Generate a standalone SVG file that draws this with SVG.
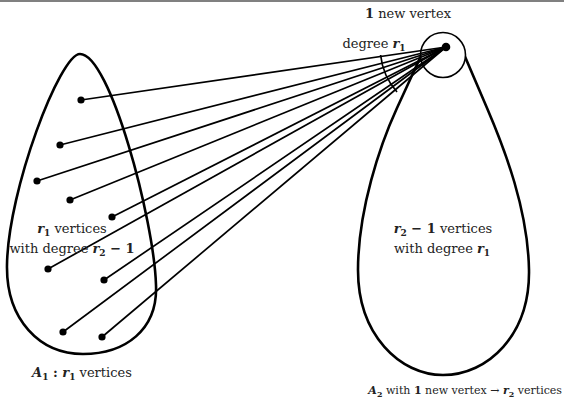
<svg xmlns="http://www.w3.org/2000/svg" width="564" height="403" viewBox="0 0 564 403">
<style>
.blob{fill:none;stroke:#000;stroke-width:2.6}
.edge{stroke:#000;stroke-width:1.7;fill:none}
.dot{fill:#000}
text{font-family:"DejaVu Serif","Liberation Serif",serif;font-size:13px;fill:#222;text-anchor:middle}
.m{font-weight:bold;font-style:italic}
.b{font-weight:bold}
.s{font-size:9px;font-weight:bold}
.ss{font-size:8px;font-weight:bold}
</style>
<rect x="0" y="0" width="564" height="403" fill="#fff"/>
<line x1="0" y1="1" x2="564" y2="1" stroke="#808080" stroke-width="2"/>
<g id="A1">
<path class="blob" d="M 80 54 C 60 54, 8 190, 7 265 C 6 320, 40 354, 83 354 C 125 354, 158 330, 156 285 C 154 220, 110 54, 80 54 Z"/>
</g>
<g id="A2">
<path class="blob" d="M 426 45 L 397 108 C 380 145, 358 210, 358 270 C 358 335, 400 375, 443 375 C 488 375, 530 335, 529 270 C 528 210, 505 150, 487 108 L 460 45 Q 443 35 426 45 Z"/>
<circle cx="443" cy="55" r="22.5" fill="#fff" stroke="#000" stroke-width="1.6"/>
</g>
<g id="connectors">
<line class="edge" x1="81" y1="100" x2="446" y2="47"/>
<line class="edge" x1="60" y1="145" x2="446" y2="47"/>
<line class="edge" x1="37" y1="181" x2="446" y2="47"/>
<line class="edge" x1="70" y1="200" x2="446" y2="47"/>
<line class="edge" x1="112" y1="217" x2="446" y2="47"/>
<line class="edge" x1="48" y1="269" x2="446" y2="47"/>
<line class="edge" x1="104" y1="280" x2="446" y2="47"/>
<line class="edge" x1="63" y1="332" x2="446" y2="47"/>
<line class="edge" x1="102" y1="337" x2="446" y2="47"/>
<path class="edge" d="M 380.6 55 A 66 66 0 0 0 397 92" stroke-width="2"/>
</g>
<g id="vertices">
<circle class="dot" cx="446" cy="47" r="4.3"/>
<circle class="dot" cx="81" cy="100" r="3.6"/>
<circle class="dot" cx="60" cy="145" r="3.6"/>
<circle class="dot" cx="37" cy="181" r="3.6"/>
<circle class="dot" cx="70" cy="200" r="3.6"/>
<circle class="dot" cx="112" cy="217" r="3.6"/>
<circle class="dot" cx="48" cy="269" r="3.6"/>
<circle class="dot" cx="104" cy="280" r="3.6"/>
<circle class="dot" cx="63" cy="332" r="3.6"/>
<circle class="dot" cx="102" cy="337" r="3.6"/>
</g>
<g id="labels">
<text x="408" y="18"><tspan class="b">1</tspan> new vertex</text>
<text x="374" y="48">degree <tspan class="m">r</tspan><tspan class="s" dy="3">1</tspan></text>
<text x="72" y="233"><tspan class="m">r</tspan><tspan class="s" dy="3">1</tspan><tspan dy="-3"> vertices</tspan></text>
<text x="72" y="253">with degree <tspan class="m">r</tspan><tspan class="s" dy="3">2</tspan><tspan class="b" dy="-3"> − 1</tspan></text>
<text x="443" y="233"><tspan class="m">r</tspan><tspan class="s" dy="3">2</tspan><tspan class="b" dy="-3"> − 1</tspan> vertices</text>
<text x="442" y="253">with degree <tspan class="m">r</tspan><tspan class="s" dy="3">1</tspan></text>
<text x="82" y="377"><tspan class="m">A</tspan><tspan class="s" dy="3">1</tspan><tspan class="b" dy="-3"> : </tspan><tspan class="m">r</tspan><tspan class="s" dy="3">1</tspan><tspan dy="-3"> vertices</tspan></text>
<text x="562" y="394" style="text-anchor:end;font-size:11px"><tspan class="m">A</tspan><tspan class="ss" dy="3">2</tspan><tspan dy="-3"> with </tspan><tspan class="b">1</tspan> new vertex → <tspan class="m">r</tspan><tspan class="ss" dy="3">2</tspan><tspan dy="-3"> vertices</tspan></text>
</g>
</svg>
